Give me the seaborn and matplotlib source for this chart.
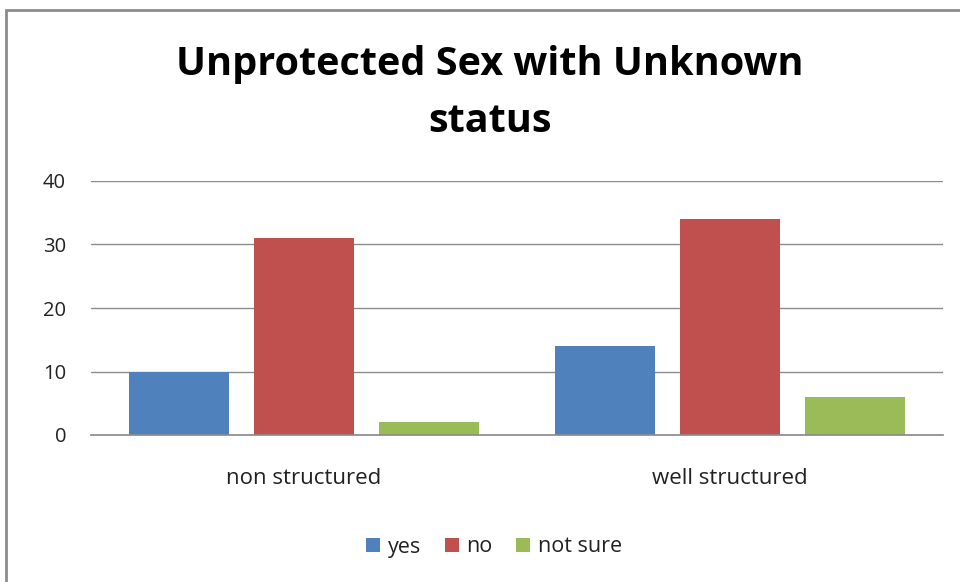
import matplotlib
matplotlib.use("Agg")
import matplotlib.pyplot as plt
import seaborn as sns
import pandas as pd
from matplotlib.patches import Rectangle

categories = ["non structured", "well structured"]
series_names = ["yes", "no", "not sure"]
yes_vals = [10, 14]
no_vals = [31, 34]
notsure_vals = [2, 6]
yticks = [0, 10, 20, 30, 40]
colors = ["#4F81BD", "#C0504D", "#9BBB59"]

rows = []
for name, vals in zip(series_names, [yes_vals, no_vals, notsure_vals]):
    for c, v in zip(categories, vals):
        rows.append({"category": c, "series": name, "value": v})
df = pd.DataFrame(rows)

sns.set_theme(style="white")
plt.rcParams["font.family"] = ["Open Sans", "DejaVu Sans"]

fig = plt.figure(figsize=(9.6, 5.82), dpi=100)
ax = fig.add_axes([91/960, 1-435/582, 852/960, 254/582])

sns.barplot(data=df, x="category", y="value", hue="series", palette=colors,
            width=0.88, ax=ax, saturation=1, edgecolor="none", legend=True)

bw = 100/426
for p in ax.patches:
    w = p.get_width()
    if w > 0:
        cx = p.get_x() + w/2
        p.set_x(cx - bw/2)
        p.set_width(bw)

ax.set_ylim(0, 40)
ax.set_xlim(-0.5, 1.5)
ax.set_yticks(yticks)
ax.set_yticklabels([str(t) for t in yticks], fontsize=14.5, color="#222222")
ax.tick_params(axis="x", labelsize=16, colors="#222222", pad=24, length=0)
ax.tick_params(axis="y", pad=18, length=0)
ax.yaxis.grid(True, color="#8c8c8c", linewidth=1)
ax.set_axisbelow(True)
for s in ["top", "right", "left"]:
    ax.spines[s].set_visible(False)
ax.spines["bottom"].set_color("#8c8c8c")
ax.set_xlabel("")
ax.set_ylabel("")

leg = ax.legend(loc="center", bbox_to_anchor=(494/960, 1-547/582),
                bbox_transform=fig.transFigure, ncol=3, frameon=False,
                fontsize=15.5, handlelength=0.65, handleheight=0.65,
                columnspacing=1.1, handletextpad=0.35)
for t in leg.get_texts():
    t.set_color("#222222")

fig.text(490/960, 1-93/582, "Unprotected Sex with Unknown\nstatus", ha="center",
         va="center", fontsize=28.5, fontweight="bold", linespacing=1.57,
         color="black")

fig.patches.append(Rectangle((6/960, -0.1), 1.1, 1 - 10/582 + 0.1,
                             transform=fig.transFigure, fill=False,
                             edgecolor="#8c8c8c", linewidth=2))

fig.savefig("out.png", dpi=100)
